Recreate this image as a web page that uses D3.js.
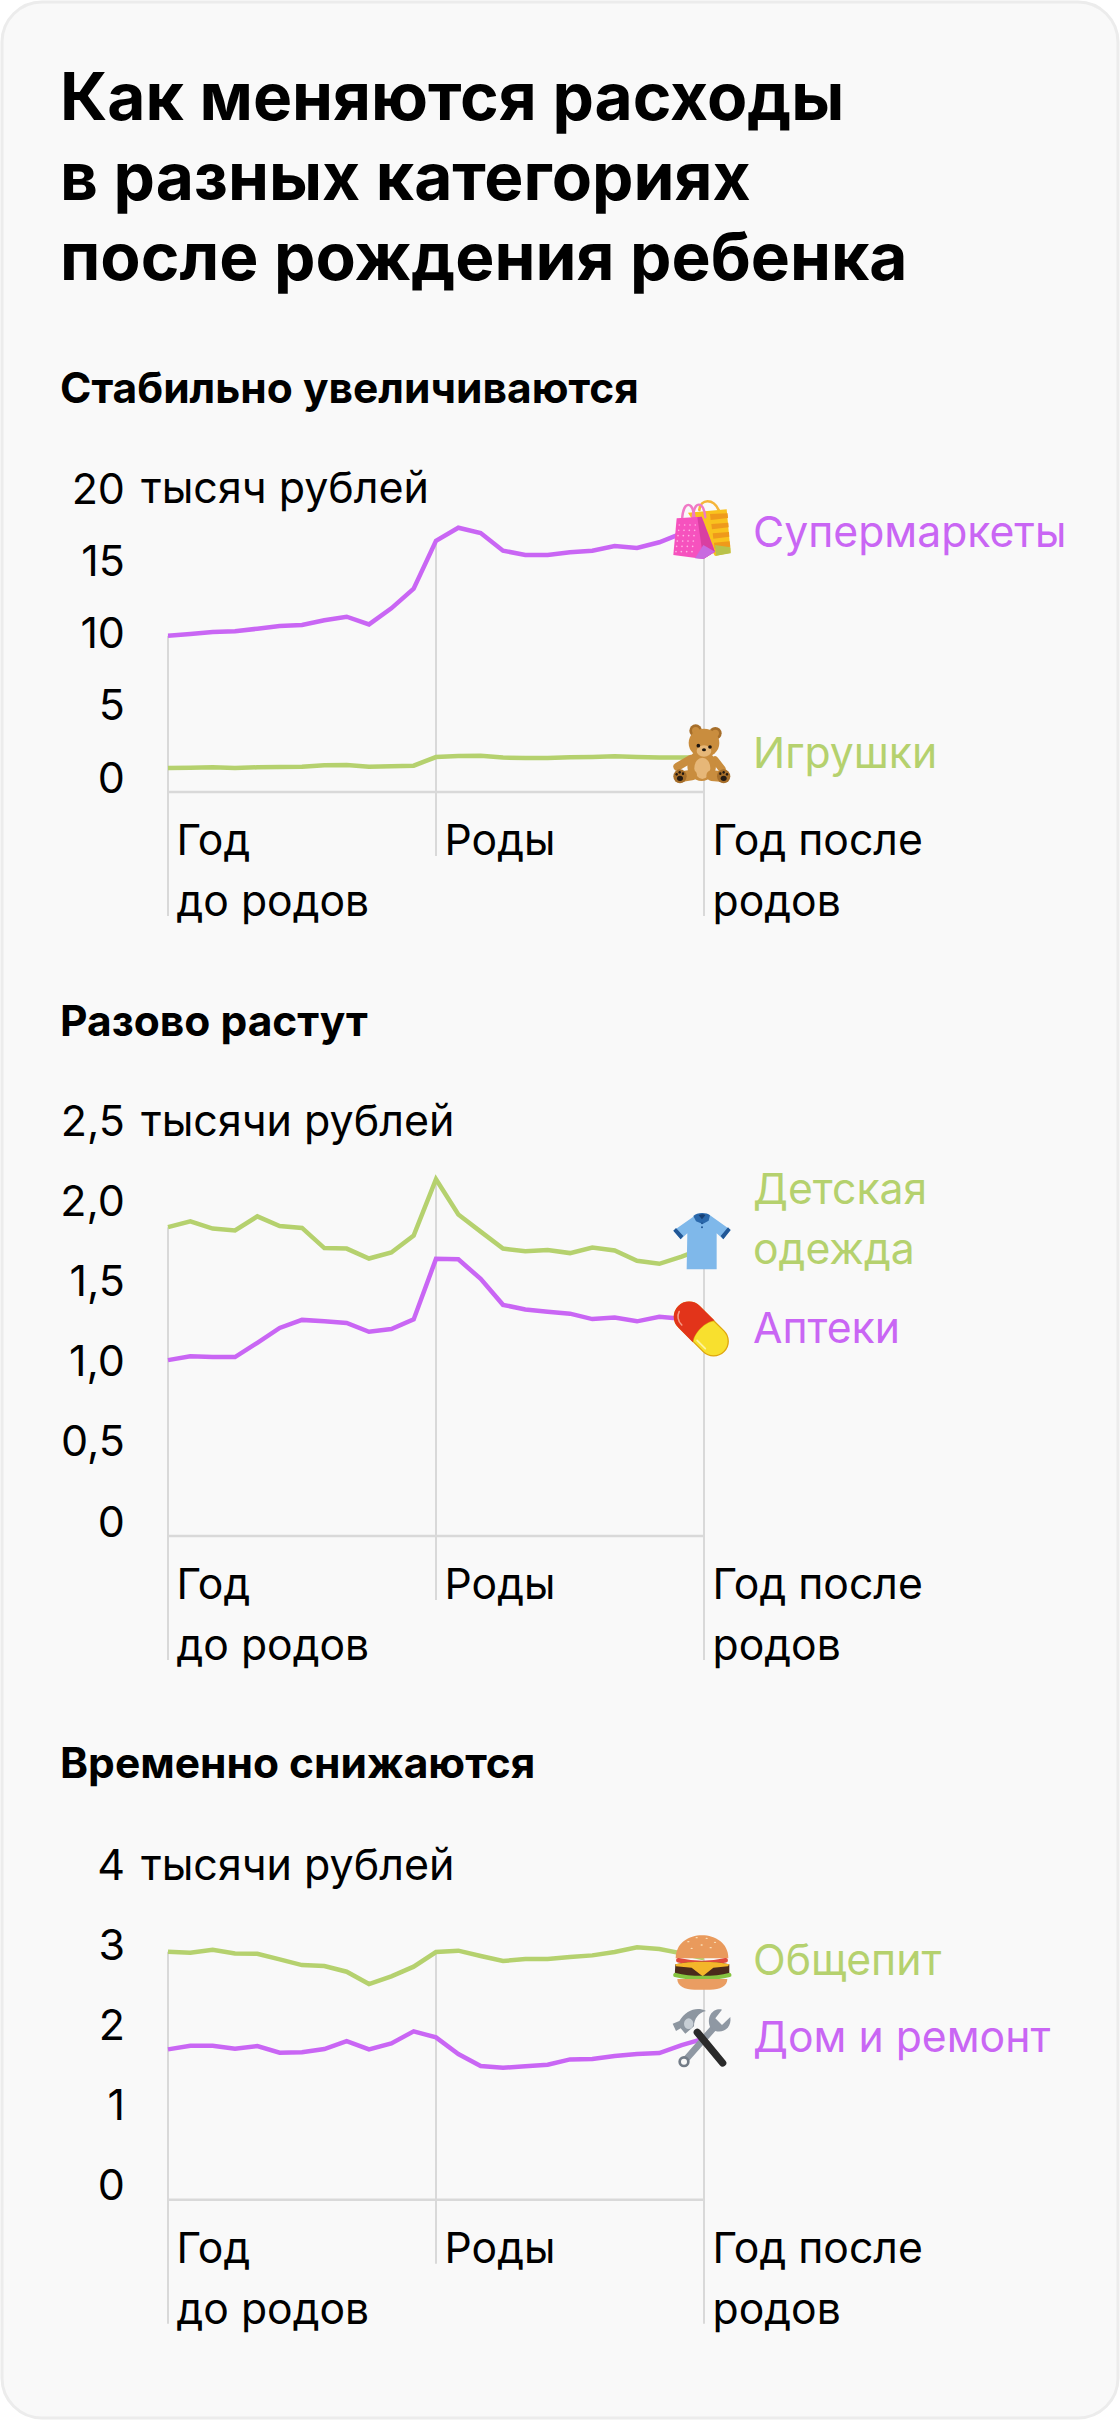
<!DOCTYPE html>
<html lang="ru">
<head>
<meta charset="utf-8">
<script src="https://cdn.jsdelivr.net/npm/d3@7"></script>
<style>
  html, body { margin: 0; padding: 0; background: #fff; }
  svg { display: block; }
  text { font-family: Inter, "Noto Sans", sans-serif; }
</style>
</head>
<body>
<div id="chart"></div>
<script>
// values in thousands of rubles, one point per month, from a year before birth to a year after
const months = d3.range(-12, 13);

const supermarkets = [10.82, 10.93, 11.07, 11.12, 11.30, 11.49, 11.56, 11.88, 12.13, 11.60, 12.71, 14.07, 17.39, 18.29, 17.92, 16.70, 16.40, 16.40, 16.59, 16.70, 17.02, 16.89, 17.28, 17.90, 18.48];
const toys = [1.66, 1.68, 1.71, 1.66, 1.71, 1.73, 1.75, 1.85, 1.87, 1.75, 1.78, 1.82, 2.42, 2.49, 2.51, 2.38, 2.35, 2.35, 2.40, 2.42, 2.47, 2.42, 2.38, 2.38, 2.38];

const kidsClothes = [1.928, 1.964, 1.919, 1.907, 1.995, 1.935, 1.923, 1.797, 1.794, 1.732, 1.770, 1.876, 2.227, 2.007, 1.900, 1.794, 1.778, 1.785, 1.766, 1.801, 1.782, 1.718, 1.699, 1.744, 1.797];
const pharmacies = [1.098, 1.122, 1.117, 1.117, 1.206, 1.299, 1.349, 1.340, 1.330, 1.275, 1.292, 1.352, 1.730, 1.727, 1.605, 1.443, 1.414, 1.400, 1.388, 1.354, 1.364, 1.340, 1.368, 1.356, 1.347];

const catering = [3.100, 3.088, 3.125, 3.079, 3.075, 3.004, 2.933, 2.921, 2.850, 2.696, 2.792, 2.913, 3.096, 3.113, 3.046, 2.983, 3.008, 3.008, 3.033, 3.054, 3.096, 3.154, 3.133, 3.079, 3.017];
const homeRepair = [1.879, 1.925, 1.925, 1.888, 1.921, 1.838, 1.842, 1.883, 1.983, 1.879, 1.954, 2.104, 2.029, 1.821, 1.671, 1.650, 1.667, 1.688, 1.754, 1.758, 1.796, 1.821, 1.833, 1.933, 2.013];

const titleLines = ["Как меняются расходы", "в разных категориях", "после рождения ребенка"];
const xLabels = [
  { month: -12, lines: ["Год", "до родов"] },
  { month: 0, lines: ["Роды"] },
  { month: 12, lines: ["Год после", "родов"] }
];

const ticksTop = [0, 5, 10, 15, 20];
const ticksMiddle = [0, 0.5, 1, 1.5, 2, 2.5];
const ticksBottom = [0, 1, 2, 3, 4];

const width = 1120, height = 2420;
const purple = "#c966f4", green = "#b5d16e", axisColor = "#d9d9d9";
const x = d3.scaleLinear().domain([-12, 12]).range([168, 704]);

const svg = d3.select("#chart").append("svg")
  .attr("width", width).attr("height", height);

// card
svg.append("rect")
  .attr("x", 2).attr("y", 2)
  .attr("width", width - 4).attr("height", height - 4)
  .attr("rx", 40)
  .attr("fill", "#f9f9f9")
  .attr("stroke", "#ececec")
  .attr("stroke-width", 3);

svg.selectAll(".title").data(titleLines).join("text")
  .attr("class", "title")
  .attr("x", 60)
  .attr("y", (d, i) => 120 + i * 80)
  .attr("font-size", 65.8)
  .attr("font-weight", 700)
  .attr("fill", "#000")
  .text(d => d);

function drawChart(opts) {
  const g = svg.append("g");
  const y = d3.scaleLinear().domain([0, opts.yMax]).range([opts.baseline, opts.yTop]);

  g.append("text")
    .attr("x", 60).attr("y", opts.headingY)
    .attr("font-size", 42.5).attr("font-weight", 700).attr("fill", "#000")
    .text(opts.heading);

  // vertical month guides drop from the highest line at each edge
  const top = m => y(d3.max(opts.series, s => s.values[months.indexOf(m)]));
  xLabels.forEach(lab => {
    g.append("line")
      .attr("x1", x(lab.month)).attr("x2", x(lab.month))
      .attr("y1", top(lab.month))
      .attr("y2", opts.baseline + (lab.lines.length > 1 ? 124 : 64))
      .attr("stroke", axisColor).attr("stroke-width", 2);
    lab.lines.forEach((t, j) => {
      g.append("text")
        .attr("x", x(lab.month) + 8.5)
        .attr("y", opts.baseline + 63 + j * 61)
        .attr("font-size", 42.7)
        .attr("fill", "#000")
        .text(t);
    });
  });

  g.append("line")
    .attr("x1", x.range()[0]).attr("x2", x.range()[1])
    .attr("y1", opts.baseline).attr("y2", opts.baseline)
    .attr("stroke", axisColor).attr("stroke-width", 2.5);

  const yAxis = d3.axisLeft(y)
    .tickValues(opts.ticks)
    .tickSize(0)
    .tickFormat(d => d === 0 ? "0" : opts.tickFormat(d));
  const axisG = g.append("g")
    .attr("transform", "translate(125,0)")
    .call(yAxis);
  axisG.select(".domain").remove();
  axisG.selectAll("text")
    .attr("x", 0).attr("dy", 0)
    .attr("font-family", null)
    .attr("font-size", 43)
    .attr("fill", "#000");

  g.append("text")
    .attr("x", 141).attr("y", y(opts.yMax))
    .attr("font-size", 43).attr("fill", "#000")
    .text(opts.unit);

  const line = d3.line()
    .x((d, i) => x(months[i]))
    .y(d => y(d));

  opts.series.forEach(s => {
    g.append("path")
      .datum(s.values)
      .attr("d", line)
      .attr("fill", "none")
      .attr("stroke", s.color)
      .attr("stroke-width", 4.5);

    s.label.forEach((t, j) => {
      g.append("text")
        .attr("x", 753)
        .attr("y", s.labelY + j * 60)
        .attr("font-size", 42.7)
        .attr("fill", s.color)
        .text(t);
    });
  });

  // icons go last so they cover the line ends and guides
  opts.series.forEach(s => {
    s.icon(g.append("g").attr("transform", `translate(660,${s.iconY}) scale(0.3333)`));
  });
}

// Emoji fonts are not available, so the icons are small drawings, 270 units across
function shape(g, d, fill) {
  return g.append("path").attr("d", d).attr("fill", fill);
}
function blob(g, cx, cy, rx, ry, fill) {
  return g.append("ellipse").attr("cx", cx).attr("cy", cy).attr("rx", rx).attr("ry", ry).attr("fill", fill);
}
function stroke(g, d, color, w) {
  return g.append("path").attr("d", d).attr("fill", "none").attr("stroke", color)
    .attr("stroke-width", w).attr("stroke-linecap", "round");
}

function bagsIcon(g) {
  stroke(g, "M118 60 C122 25 160 25 176 60", "#f5b53a", 8);
  shape(g, "M84 68 L200 58 L212 188 L165 198 Z", "#f9c21e");
  ["M150 72 L203 70 L204 84 L152 90 Z", "M154 102 L205 98 L206 112 L156 118 Z", "M158 130 L207 126 L208 140 L160 146 Z", "M162 158 L209 154 L211 170 L164 176 Z"]
    .forEach(d => shape(g, d, "#ef9a1b"));
  shape(g, "M165 165 L211 172 L212 190 L168 197 Z", "#b9c24a");
  stroke(g, "M66 88 C70 30 100 30 104 88", "#f07ac6", 7);
  stroke(g, "M98 88 C100 30 132 30 136 82", "#f07ac6", 7);
  shape(g, "M50 85 L125 80 L165 185 L130 207 L40 195 Z", "#f652be");
  shape(g, "M112 82 L125 80 L165 185 L130 207 Z", "#d93fa2");
  shape(g, "M105 205 L130 165 L165 185 L130 207 Z", "#c86ae0");
  d3.range(6).forEach(r => d3.range(4).forEach(c => {
    blob(g, 58 + c * 16 - r * 2, 105 + r * 16, 2.5, 2.5, "#ffb3e4");
  }));
}

function bearIcon(g) {
  const fur = "#c98d3e", lite = "#e6b778", deep = "#a66e2a";
  blob(g, 107, 47, 19, 19, deep); blob(g, 107, 47, 11, 11, fur);
  blob(g, 166, 55, 19, 19, deep); blob(g, 166, 55, 11, 11, fur);
  stroke(g, "M92 132 L52 155", fur, 24);
  stroke(g, "M165 135 L186 162", fur, 22);
  blob(g, 125, 152, 43, 46, fur);
  blob(g, 127, 160, 24, 32, lite);
  stroke(g, "M95 180 L62 185", fur, 32);
  stroke(g, "M155 182 L190 185", fur, 32);
  blob(g, 60, 184, 20, 21, deep);
  blob(g, 191, 184, 20, 21, deep);
  [[60, 190, 9, 8], [50, 178, 3.5, 4], [59, 172, 3.5, 4], [69, 176, 3.5, 4],
   [191, 190, 9, 8], [181, 176, 3.5, 4], [191, 172, 3.5, 4], [201, 178, 3.5, 4]]
    .forEach(c => blob(g, c[0], c[1], c[2], c[3], "#241a12"));
  blob(g, 132, 84, 46, 43, fur);
  blob(g, 132, 108, 22, 17, lite);
  blob(g, 115, 92, 5.5, 5.5, "#1c1510");
  blob(g, 150, 96, 5.5, 5.5, "#1c1510");
  blob(g, 132, 104, 6, 4.5, "#1c1510");
}

function shirtIcon(g) {
  shape(g, "M100 50 L150 46 L212 90 L190 118 L170 100 L170 208 L80 208 L82 100 L62 118 L40 92 Z", "#7fb8ea");
  shape(g, "M40 92 L48 84 L70 108 L62 118 Z M212 90 L204 82 L182 108 L190 118 Z", "#215796");
  shape(g, "M100 48 C110 36 140 36 150 46 L146 62 L128 72 L108 64 Z", "#2a68ab");
  shape(g, "M116 46 C122 42 132 42 136 46 L126 58 Z", "#163f74");
  blob(g, 126, 70, 3, 3, "#215796");
  blob(g, 126, 82, 3, 3, "#215796");
}

function pillIcon(g) {
  const pill = g.append("g").attr("transform", "translate(124,387) rotate(-45)");
  pill.append("rect").attr("x", -46).attr("y", -98).attr("width", 92).attr("height", 196).attr("rx", 46).attr("fill", "#dfa60e");
  shape(pill, "M-42 10 L-42 52 A42 42 0 0 0 42 52 L42 10 C24 -6 -24 -6 -42 10 Z", "#f8e02e");
  shape(pill, "M-46 10 L-46 -52 A46 46 0 0 1 46 -52 L46 10 C24 -8 -24 -8 -46 10 Z", "#e2341a");
  stroke(pill, "M-33 -50 C-33 -68 -22 -80 -10 -84", "#f59a84", 5);
  stroke(pill, "M-33 15 L-33 50", "#fdf3a0", 5);
}

function burgerIcon(g) {
  shape(g, "M47 100 C47 8 205 8 205 100 Z", "#e99a5c");
  stroke(g, "M55 106 C100 116 155 116 197 106", "#e04a3c", 14);
  shape(g, "M46 118 C90 108 165 108 208 118 L208 155 L44 155 Z", "#4a2b1b");
  shape(g, "M46 118 C90 108 165 108 208 118 L204 124 L160 128 L128 154 L95 128 L48 124 Z", "#f4b62a");
  stroke(g, "M46 150 C90 162 165 162 208 150", "#86c440", 13);
  shape(g, "M52 162 H202 C202 184 180 194 150 194 H104 C74 194 52 184 52 162 Z", "#ea9d62");
  [[85, 50], [110, 38], [140, 40], [165, 52], [125, 60], [95, 70], [152, 68]]
    .forEach(c => blob(g, c[0], c[1], 3.5, 2, "#fbe3bd"));
}

function toolsIcon(g) {
  // wrench under the hammer handle
  stroke(g, "M72 410 L165 304", "#8f98a3", 20);
  shape(g, "M150 305 C138 272 162 248 186 254 L166 280 L186 300 L211 276 C216 308 190 326 166 318 Z", "#8f98a3");
  g.append("circle").attr("cx", 72).attr("cy", 410).attr("r", 13).attr("fill", "#f9f9f9").attr("stroke", "#737c87").attr("stroke-width", 8);
  stroke(g, "M112 322 L188 414", "#2a2a2a", 22);
  shape(g, "M38 296 L58 288 C78 256 110 244 138 258 C116 262 102 282 102 304 L76 326 L62 310 L48 318 Z", "#8d96a0");
  blob(g, 86, 296, 14, 16, "#c7ced5");
}

drawChart({
  heading: "Стабильно увеличиваются", headingY: 403,
  baseline: 792, yTop: 503, yMax: 20, ticks: ticksTop,
  tickFormat: d3.format("d"), unit: "тысяч рублей",
  series: [
    { values: supermarkets, color: purple, label: ["Супермаркеты"], labelY: 547, icon: bagsIcon, iconY: 490 },
    { values: toys, color: green, label: ["Игрушки"], labelY: 768, icon: bearIcon, iconY: 715 }
  ]
});

drawChart({
  heading: "Разово растут", headingY: 1036,
  baseline: 1536, yTop: 1135.5, yMax: 2.5, ticks: ticksMiddle,
  tickFormat: d => d.toFixed(1).replace(".", ","), unit: "тысячи рублей",
  series: [
    { values: kidsClothes, color: green, label: ["Детская", "одежда"], labelY: 1204, icon: shirtIcon, iconY: 1200 },
    { values: pharmacies, color: purple, label: ["Аптеки"], labelY: 1343, icon: pillIcon, iconY: 1200 }
  ]
});

drawChart({
  heading: "Временно снижаются", headingY: 1778,
  baseline: 2199.7, yTop: 1879.7, yMax: 4, ticks: ticksBottom,
  tickFormat: d3.format("d"), unit: "тысячи рублей",
  series: [
    { values: catering, color: green, label: ["Общепит"], labelY: 1975, icon: burgerIcon, iconY: 1925 },
    { values: homeRepair, color: purple, label: ["Дом и ремонт"], labelY: 2052, icon: toolsIcon, iconY: 1925 }
  ]
});
</script>
</body>
</html>
